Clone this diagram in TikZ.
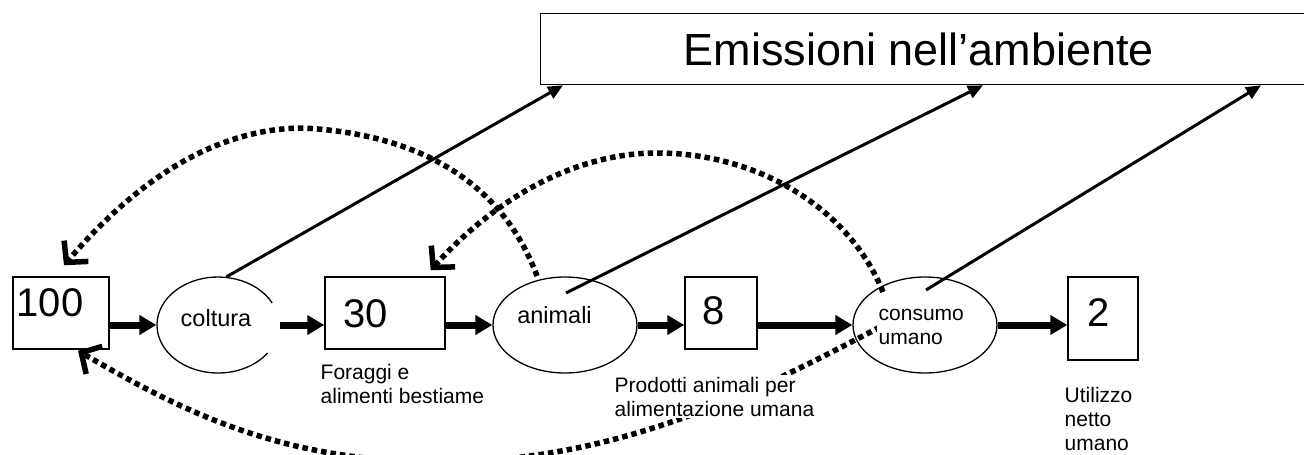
\documentclass[tikz,border=0pt]{standalone}
\usepackage{fontspec}
\setmainfont{Liberation Sans}
\usetikzlibrary{arrows.meta,shapes.geometric,calc}

\begin{document}
\begin{tikzpicture}[x=1pt,y=-1pt,
  box/.style={draw,line width=1.5pt,rectangle,inner sep=0pt},
  oval/.style={draw,line width=1.3pt,ellipse,inner sep=0pt,minimum width=144pt,minimum height=96pt},
  num/.style={font=\fontsize{40}{44}\selectfont},
  word/.style={font=\fontsize{23.5}{26}\selectfont},
  note/.style={font=\fontsize{21}{24}\selectfont,align=left,anchor=base west,inner sep=1.5pt,fill=white},
  flow/.style={line width=7pt,-{Triangle[length=17pt,width=19pt]}},
  emit/.style={line width=3pt,-{Triangle[length=15pt,width=13pt]}},
  back/.style={line width=5.5pt,dash pattern=on 5.5pt off 4pt,-{Straight Barb[length=15pt,width=32pt]}}]

\clip (0,0) rectangle (1304,455);

% emissions box (runs off the right edge)
\node[box,line width=1.3pt,anchor=north west,minimum width=790pt,minimum height=71pt,
      label={[font=\fontsize{45}{50}\selectfont,xshift=-17pt]center:Emissioni nell’ambiente}]
      (emis) at (540,13) {};

% quantity boxes
\node[box,minimum width=96pt,minimum height=72pt,
      label={[num,xshift=-11pt,yshift=10pt]center:100}] (b100) at (61,313) {};
\node[box,minimum width=120pt,minimum height=72pt,
      label={[num,xshift=-19pt,yshift=-1pt]center:30}] (b30) at (385,313) {};
\node[box,minimum width=72pt,minimum height=72pt,
      label={[num,xshift=-7pt,yshift=2pt]center:8}] (b8) at (721,313) {};
\node[box,minimum width=70pt,minimum height=83pt,
      label={[num,xshift=-4pt,yshift=6pt]center:2}] (b2) at (1103,318.5) {};

% process ovals
\node[oval,draw=none,minimum width=122pt,
      label={[word,xshift=-2pt,yshift=7pt]center:coltura}] (col) at (218,325) {};
\draw[line width=1.3pt] ($(col.center)+(54.2pt,22pt)$)
  arc[start angle=27.3,end angle=324.3,x radius=61pt,y radius=48pt];
\node[oval,label={[word,xshift=-10.5pt,yshift=10pt]center:animali}] (ani) at (565,325) {};
\node[oval] (con) at (925,325) {};

% main flow
\draw[flow] (b100.east |- col.center) -- (col.west);
\draw[flow] (col.east) -- (b30.west |- col.east);
\draw[flow] (b30.east |- ani.center) -- (ani.west);
\draw[flow] (ani.east) -- (b8.west |- ani.east);
\draw[flow] (b8.east |- con.center) -- (con.west);
\draw[flow] (con.east) -- (b2.west |- con.east);

% emissions
\draw[emit] (col.80) -- ($(emis.south west)+(23pt,0pt)$);
\draw[emit] ($(ani.center)+(1pt,32pt)$) -- ($(emis.south west)+(443pt,0pt)$);
\draw[emit] ($(con.center)+(1pt,35pt)$) -- ($(emis.south west)+(721pt,0pt)$);

% feedback loops
\draw[back] ($(ani.center)+(-28pt,49pt)$) .. controls (505,190) and (430,135) .. (304,128)
  .. controls (200,128) and (120,200) .. ($(b100.north)+(3pt,11pt)$);
\draw[back] ($(con.center)+(-42pt,33pt)$) .. controls (850,210) and (760,153) .. (657,153)
  .. controls (560,153) and (480,215) .. ($(b30.north east)+(-15pt,6pt)$);
\draw[back] ($(con.center)+(-45pt,-2pt)$) .. controls (760,390) and (620,462) .. (440,462)
  .. controls (280,462) and (180,410) .. ($(b100.south)+(17pt,-1pt)$);

% captions, on white so the loops pass behind them
\node[note] (cap30) at (319,403) {Foraggi e\\alimenti bestiame};
\node[note] (cap8) at (613,416) {Prodotti animali per\\alimentazione umana};
\node[note] (capcon) at (877,344) {consumo\\umano};
\node[note] (cap2) at (1063,450) {Utilizzo\\netto\\umano};
\end{tikzpicture}
\end{document}
